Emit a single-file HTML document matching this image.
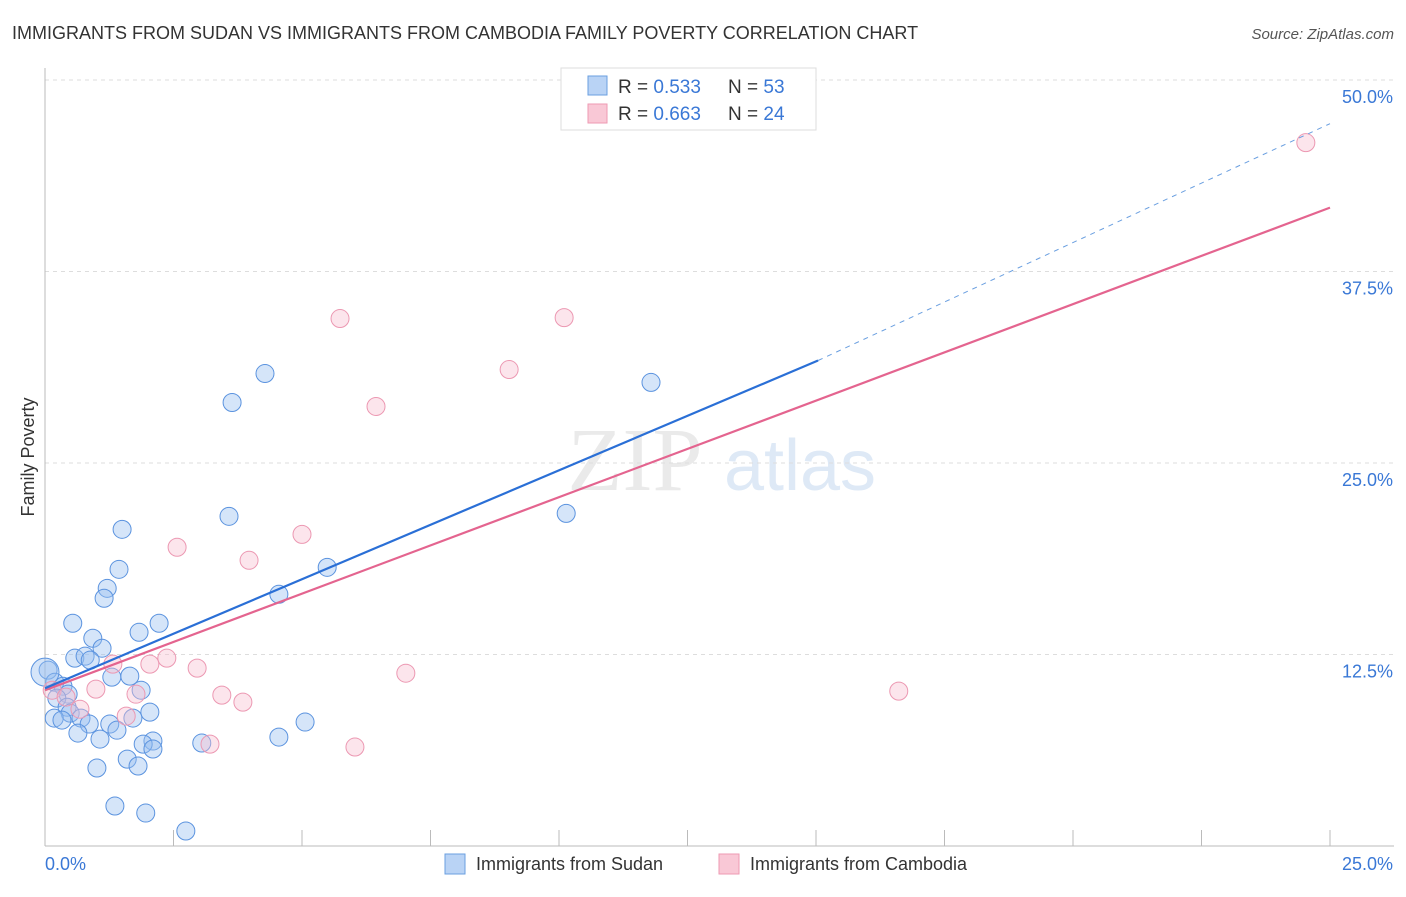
<!DOCTYPE html>
<html><head><meta charset="utf-8"><style>
body{margin:0;background:#fff;font-family:"Liberation Sans",sans-serif}
</style></head><body>
<svg id="c" width="1406" height="892" xmlns="http://www.w3.org/2000/svg" style="font-family:'Liberation Sans',sans-serif">
<text x="12" y="39" font-size="18" fill="#333">IMMIGRANTS FROM SUDAN VS IMMIGRANTS FROM CAMBODIA FAMILY POVERTY CORRELATION CHART</text>
<text x="1394" y="39" font-size="15" fill="#555" font-style="italic" text-anchor="end">Source: ZipAtlas.com</text>
<text x="34" y="457" font-size="18" fill="#333" text-anchor="middle" transform="rotate(-90 34 457)">Family Poverty</text>
<g><text x="635" y="490" font-size="90" fill="#ddd" font-family="Liberation Serif" text-anchor="middle" opacity="0.6">ZIP</text><text x="800" y="490" font-size="72" fill="#c9dbf1" text-anchor="middle" opacity="0.6">atlas</text></g>
<g id="grid"></g><g id="axes"></g><g id="pts"></g><g id="lines"></g>
<g>
<rect x="561" y="68" width="255" height="62" fill="#fff" stroke="#ddd"/>
<rect x="588" y="76" width="19" height="19" fill="#b9d3f5" stroke="#6a9fe0"/>
<rect x="588" y="104" width="19" height="19" fill="#f9c8d6" stroke="#ee9ab3"/>
<text x="618" y="93" font-size="19" fill="#333">R = <tspan fill="#3a78d6">0.533</tspan><tspan x="728">N = </tspan><tspan fill="#3a78d6">53</tspan></text>
<text x="618" y="120" font-size="19" fill="#333">R = <tspan fill="#3a78d6">0.663</tspan><tspan x="728">N = </tspan><tspan fill="#3a78d6">24</tspan></text>
</g>
<g>
<rect x="445" y="854" width="20" height="20" fill="#b9d3f5" stroke="#6a9fe0"/>
<text x="476" y="870" font-size="18" fill="#333">Immigrants from Sudan</text>
<rect x="719" y="854" width="20" height="20" fill="#f9c8d6" stroke="#ee9ab3"/>
<text x="750" y="870" font-size="18" fill="#333">Immigrants from Cambodia</text>
</g>
</svg>
<script>
const yTicks=[12.5,25,37.5,50];
const yTickLabels=["12.5%","25.0%","37.5%","50.0%"];
const xTickLabels=["0.0%","25.0%"];
const sudanX=[4.28,3.64,11.79,1.50,3.58,10.14,5.49,1.44,1.21,1.15,4.55,0.54,2.22,1.83,0.93,1.11,0.58,0.78,0.88,0.06,1.30,1.65,1.87,0.19,0.35,0.45,0.23,0.43,0.49,2.04,0.18,0.33,0.70,1.71,0.86,1.26,1.40,0.64,1.07,4.55,5.06,3.05,2.10,1.91,2.10,1.60,1.81,1.01,1.36,1.96,2.74,0];
const sudanY=[30.84,28.95,30.26,20.67,21.52,21.71,18.19,18.06,16.82,16.17,16.43,14.54,14.54,13.95,13.56,12.91,12.26,12.39,12.13,11.48,11.02,11.09,10.17,10.69,10.43,9.91,9.65,9.06,8.67,8.74,8.35,8.22,8.35,8.35,7.96,7.96,7.56,7.37,6.98,7.11,8.09,6.72,6.85,6.65,6.33,5.67,5.22,5.09,2.61,2.15,0.98,11.35];
const cambX=[24.53,5.74,10.10,9.03,6.44,5.00,2.57,3.97,2.37,1.32,2.04,2.96,7.02,0.99,1.77,3.44,3.85,16.61,0.68,1.58,3.21,6.03,0.14,0.41];
const cambY=[45.91,34.43,34.49,31.10,28.69,20.34,19.50,18.65,12.26,11.87,11.87,11.61,11.28,10.24,9.91,9.85,9.39,10.11,8.93,8.48,6.65,6.46,10.17,9.72];
const sudanTrend=[10.30,31.69,47.15]; // at x=0, 15.04, 25
const sudanTrendX=[0,15.04,25];
const cambTrend=[10.17,41.67];
const cambTrendX=[0,25];
const NS="http://www.w3.org/2000/svg";
const X=v=>45+v/25*1285, Y=v=>846-v/50*766;
function mk(t,a,p){const e=document.createElementNS(NS,t);for(const k in a)e.setAttribute(k,a[k]);p.appendChild(e);return e;}
const g=document.getElementById('grid'),ax=document.getElementById('axes'),pts=document.getElementById('pts'),ln=document.getElementById('lines');
yTicks.forEach((t,i)=>{
 const l=mk('line',{x1:45,x2:1394,y1:Y(t),y2:Y(t),stroke:'#ddd','stroke-dasharray':'4,4'},g);
 
 
 const tx=mk('text',{x:1393,y:Y(t)+23,'font-size':18,fill:'#3a78d6','text-anchor':'end'},ax);
 tx.textContent=yTickLabels[i];
 
 
});
let a=mk('line',{x1:45,x2:45,y1:68,y2:846,stroke:'#bbb'},ax);


a=mk('line',{x1:45,x2:1394,y1:846,y2:846,stroke:'#bbb'},ax);


for(let i=1;i<=10;i++){const t=mk('line',{x1:X(i*2.5),x2:X(i*2.5),y1:830,y2:846,stroke:'#bbb'},ax);
 
 }
[[0,'start',45],[1,'end',1393]].forEach(([i,an,x])=>{const t=mk('text',{x:x,y:870,'font-size':18,fill:'#3a78d6','text-anchor':an},ax);t.textContent=xTickLabels[i];
 
 });
sudanX.forEach((v,i)=>{const c=mk('circle',{cx:X(v),cy:Y(sudanY[i]),r:i==sudanX.length-1?14:9,fill:'rgba(150,190,240,0.4)',stroke:'#5b93df','stroke-width':1},pts);
 
 });
cambX.forEach((v,i)=>{const c=mk('circle',{cx:X(v),cy:Y(cambY[i]),r:9,fill:'rgba(248,190,208,0.4)',stroke:'#ec98b2','stroke-width':1},pts);
 
 });
let l=mk('line',{x1:X(sudanTrendX[1]),y1:Y(sudanTrend[1]),x2:X(sudanTrendX[2]),y2:Y(sudanTrend[2]),stroke:'#6a9fe0','stroke-dasharray':'5,5','stroke-width':1},ln);


l=mk('line',{x1:X(cambTrendX[0]),y1:Y(cambTrend[0]),x2:X(cambTrendX[1]),y2:Y(cambTrend[1]),stroke:'#e4648f','stroke-width':2.2},ln);


l=mk('line',{x1:X(sudanTrendX[0]),y1:Y(sudanTrend[0]),x2:X(sudanTrendX[1]),y2:Y(sudanTrend[1]),stroke:'#2a6fd6','stroke-width':2.2},ln);


</script>
</body></html>
